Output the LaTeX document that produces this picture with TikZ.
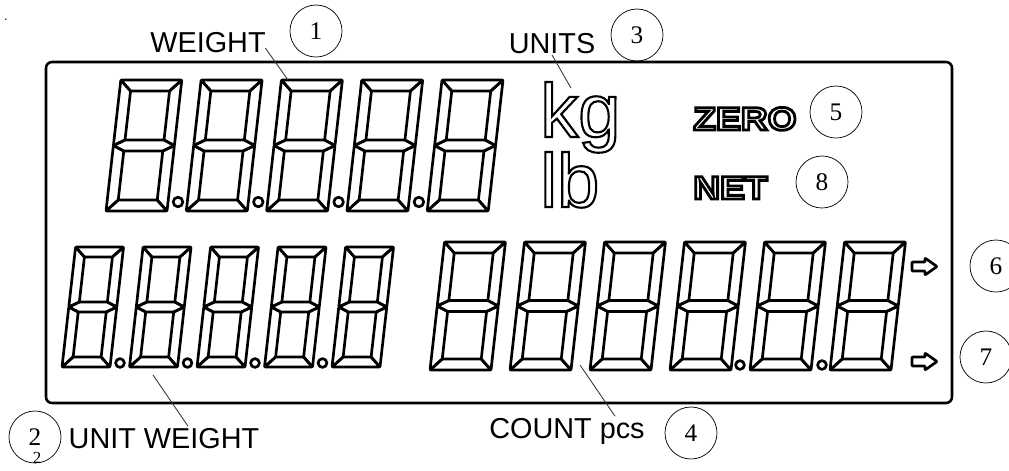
\documentclass[tikz,border=0pt]{standalone}
\usepackage{fontspec}
\setmainfont{Liberation Serif}
\newfontfamily\arial{Liberation Sans}
\newfontfamily\widearial[FakeStretch=1.15]{Liberation Sans}

% hollow lettering, stroke width in bp
\newcommand{\hollow}[2]{\special{pdf:literal direct 1 Tr #1 w}#2\special{pdf:literal direct 0 Tr}}

% one seven segment digit: x, y (bottom), width, height, segment
\newcommand{\segdigit}[5]{%
  \begin{scope}[shift={(#1,#2)},xslant=0.113,yscale=-1]
    \pgfmathsetmacro\mh{#4/2}
    \pgfmathsetmacro\ht{#5/2}
    \draw[seg] (0,#4) -- (#3,#4) -- (#3-#5,#4-#5) -- (#5,#4-#5) -- cycle;
    \draw[seg] (#3,#4) -- (#3,\mh) -- (#3-#5,\mh+\ht) -- (#3-#5,#4-#5) -- cycle;
    \draw[seg] (#3,\mh) -- (#3,0) -- (#3-#5,#5) -- (#3-#5,\mh-\ht) -- cycle;
    \draw[seg] (0,0) -- (#3,0) -- (#3-#5,#5) -- (#5,#5) -- cycle;
    \draw[seg] (0,\mh) -- (#5,\mh-\ht) -- (#5,#5) -- (0,0) -- cycle;
    \draw[seg] (0,#4) -- (#5,#4-#5) -- (#5,\mh+\ht) -- (0,\mh) -- cycle;
    \draw[seg] (0,\mh) -- (#5,\mh+\ht) -- (#3-#5,\mh+\ht) -- (#3,\mh)
      -- (#3-#5,\mh-\ht) -- (#5,\mh-\ht) -- cycle;
  \end{scope}}

\begin{document}
\begin{tikzpicture}[x=0.025cm,y=-0.025cm,
  seg/.style={line width=1.9pt,line join=round,rounded corners=0.5pt},
  num/.style={circle,draw,line width=0.5pt,minimum size=1.3cm,inner sep=0pt,
    font=\fontsize{18}{20}\selectfont},
  lbl/.style={font=\arial\fontsize{20.5}{24}\selectfont,anchor=base,inner sep=1pt},
  unitsym/.style={font=\arial\fontsize{54}{54}\selectfont,
    anchor=base west,inner sep=0pt},
  flag/.style={font=\widearial\bfseries\fontsize{23}{24}\selectfont,
    anchor=base west,inner sep=0pt},
  lead/.style={line width=0.6pt,black!80}]
  \useasboundingbox (0,0) rectangle (1009,470);

  % panel
  \draw[line width=1.8pt,rounded corners=0.15cm] (46,62) rectangle (952,403);

  % weight digits
  \foreach \i in {0,...,4} {\segdigit{106+80.3*\i}{211}{61}{131}{11}}
  \foreach \i in {0,...,3}
    \draw[seg] (178+80.3*\i,202) circle[radius=0.12cm];

  % unit weight digits
  \foreach \i in {0,...,4} {\segdigit{62+67.5*\i}{367}{48}{120}{10}}
  \foreach \i in {0,...,3}
    \draw[seg] (120+67.5*\i,363) circle[radius=0.11cm];

  % count digits
  \foreach \i in {0,...,5} {\segdigit{430+80*\i}{370}{61}{128}{11}}
  \foreach \x in {740,822}
    \draw[seg] (\x,365) circle[radius=0.11cm];

  % arrows
  \foreach \y in {266.5,361.5}
    \draw[seg] (912,\y-4.5) -- ++(13,0) -- ++(0,-4) -- ++(12,8.5) -- ++(-12,8.5)
      -- ++(0,-4) -- ++(-13,0) -- cycle;

  % units and flags
  \node[unitsym] (kg) at (540,137) {\hollow{1.5}{kg}};
  \node[unitsym] (lb) at (540,207) {\hollow{1.5}{lb}};
  \node[flag] (zero) at (693,130) {\hollow{2}{ZERO}};
  \node[flag] (net) at (693,199) {\hollow{2}{NET}};

  % labels
  \node[lbl] (weight) at (208,52) {WEIGHT};
  \node[lbl] (units) at (552,53) {UNITS};
  \node[lbl] (unitw) at (164,448) {UNIT WEIGHT};
  \node[lbl] (count) at (567,438) {COUNT pcs};

  \coordinate (wtip) at (288,80);
  \coordinate (utip) at (571,88);
  \coordinate (uwtip) at (153,375);
  \coordinate (ctip) at (580,365);
  \draw[lead] ([xshift=-0.05cm,yshift=0.1cm]weight.base east) -- (wtip);
  \draw[lead] (units.south) -- (utip);
  \draw[lead] (uwtip) -- ([xshift=0.6cm]unitw.north);
  \draw[lead] (ctip) -- ([xshift=1.2cm]count.north);

  % numbers
  \node[num] (n1) at (316,31) {1};
  \node[num] (n2) at (35,437) {2};
  \node[num] (n3) at (637,35) {3};
  \node[num] (n4) at (691,433) {4};
  \node[num] (n5) at (836,112) {5};
  \node[num] (n6) at (996,266) {6};
  \node[num] (n7) at (986,357) {7};
  \node[num] (n8) at (822,182) {8};

  \node[font=\arial\small,inner sep=0pt] (dot) at (6,20) {.};
  \node[font=\fontsize{12}{12}\selectfont,anchor=north,inner sep=0pt] (stray) at (37,452) {2};
\end{tikzpicture}
\end{document}
